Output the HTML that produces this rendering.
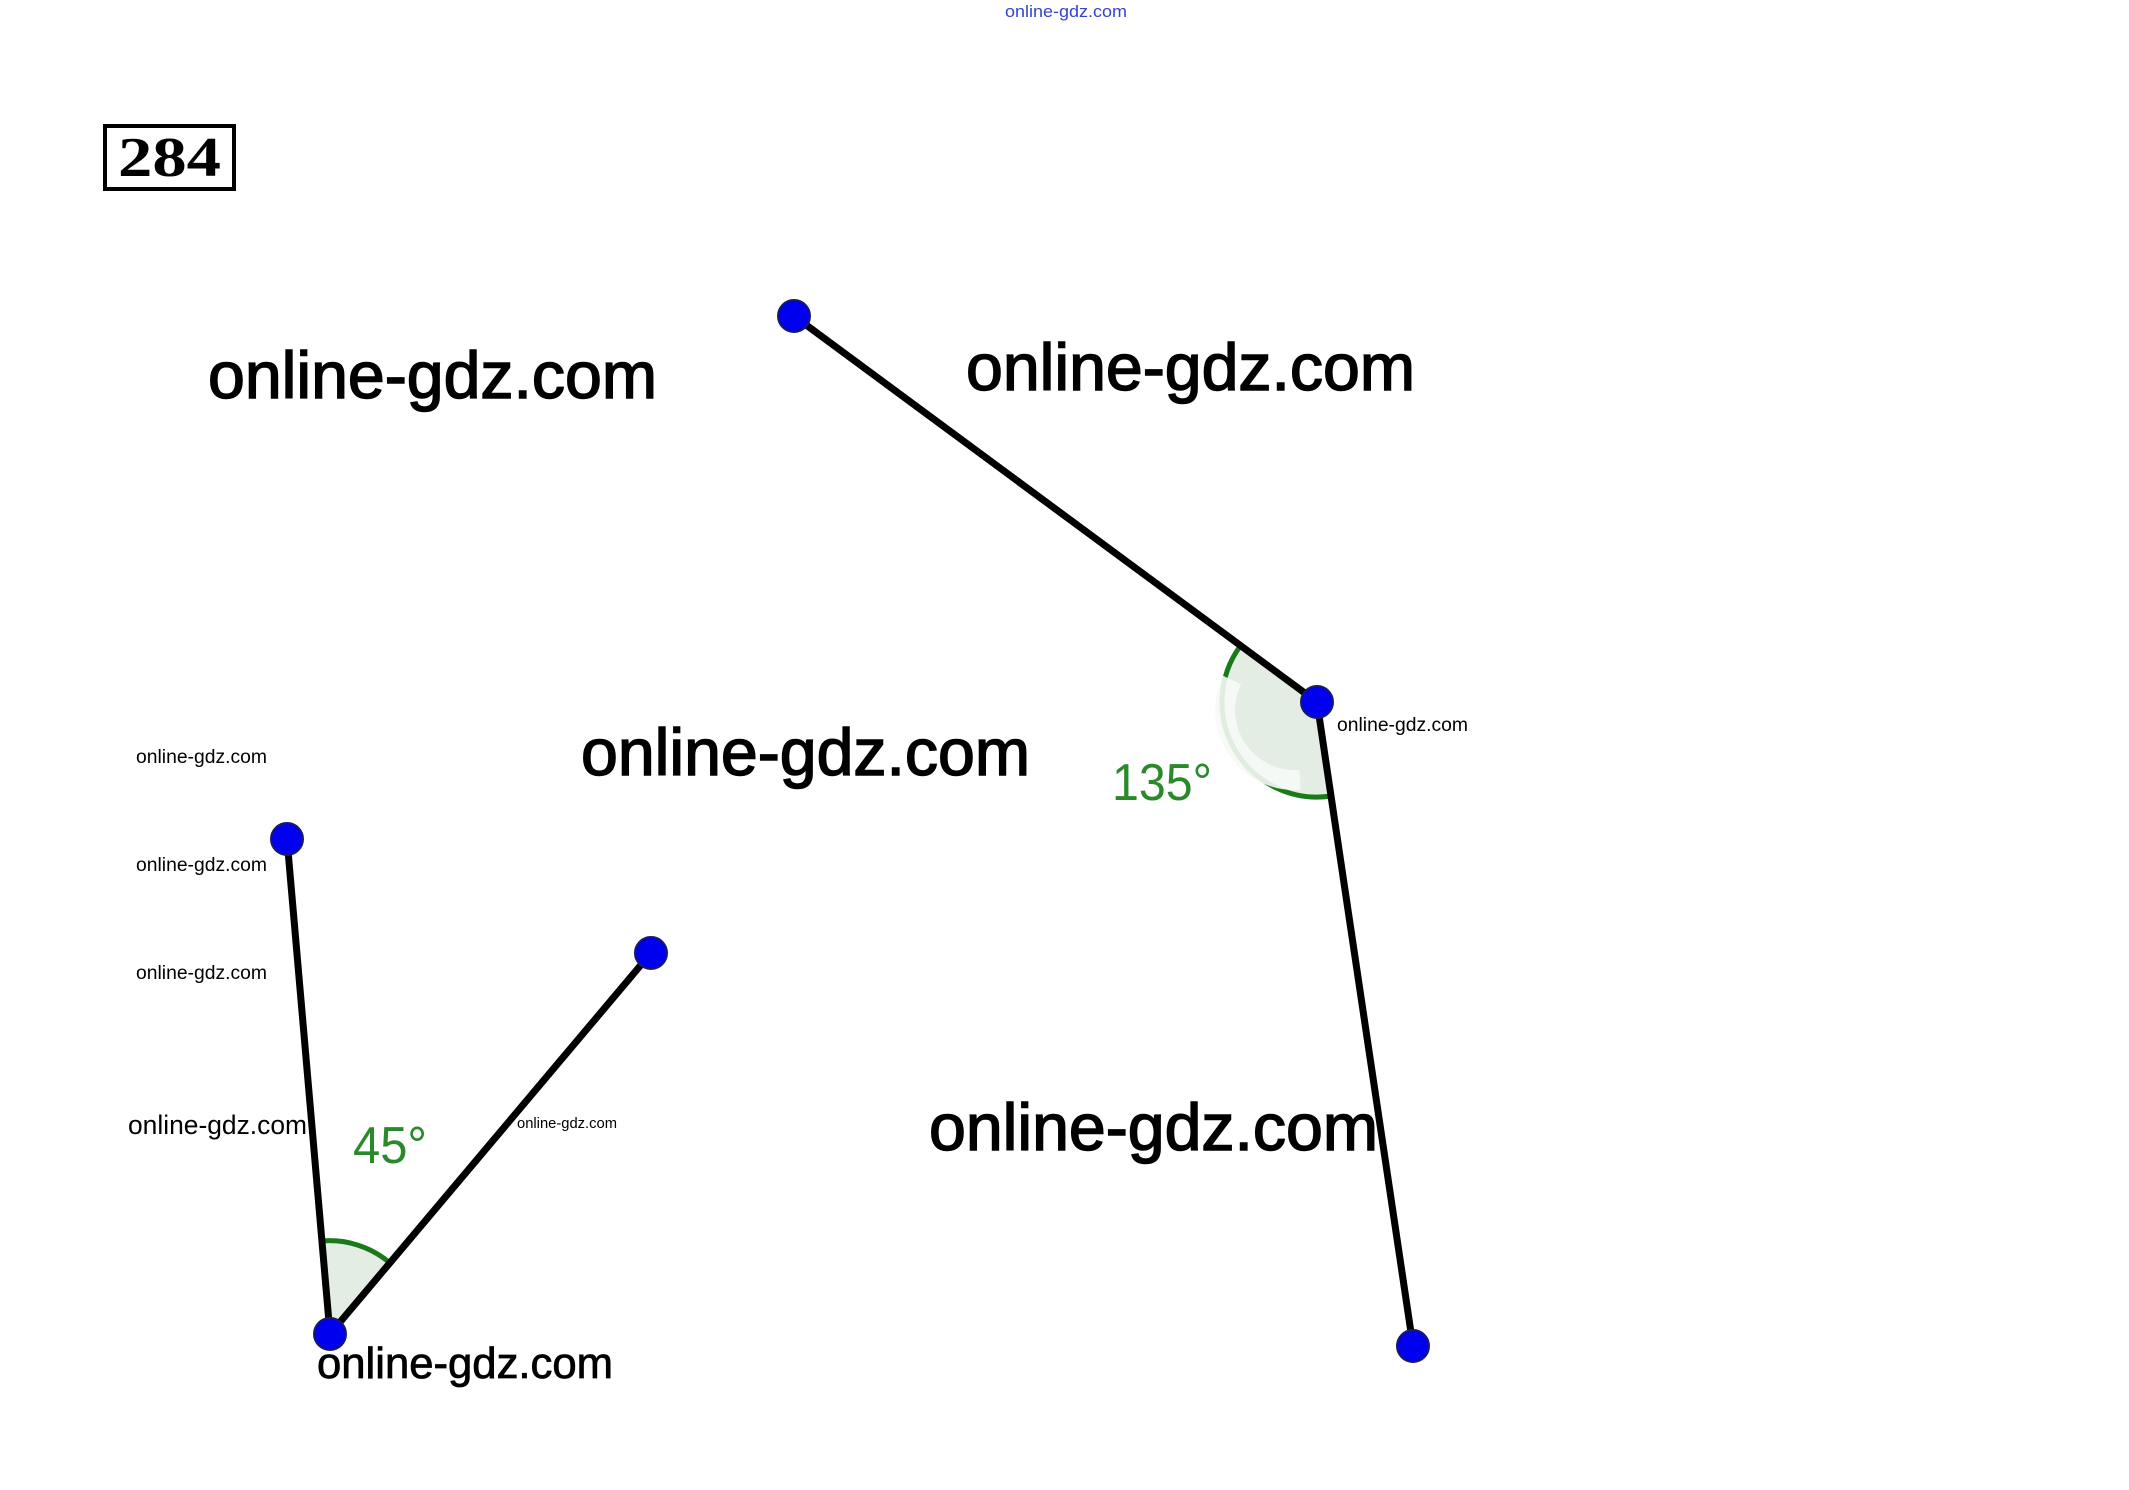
<!DOCTYPE html>
<html><head><meta charset="utf-8"><style>
html,body{margin:0;padding:0;background:#fff;}
svg{display:block;}
</style></head><body>
<svg width="2129" height="1490" viewBox="0 0 2129 1490" xmlns="http://www.w3.org/2000/svg" font-family="Liberation Sans, sans-serif">
<rect width="2129" height="1490" fill="#fff"/>
<text x="1005" y="17" font-size="17" fill="#3344cc" textLength="122" lengthAdjust="spacingAndGlyphs">online-gdz.com</text>
<rect x="105" y="126" width="129" height="63" fill="none" stroke="#000" stroke-width="4"/>
<text x="118" y="176" font-family="Liberation Serif, serif" font-weight="bold" font-size="56" textLength="103" lengthAdjust="spacingAndGlyphs">284</text>
<!-- angle 135 -->
<path d="M1317 702 L1331 796 A95 95 0 0 1 1240.5 645.7 Z" fill="#e3ede3"/>
<path d="M1331 796 A95 95 0 0 1 1240.5 645.7" fill="none" stroke="#1a7a1a" stroke-width="5"/>
<path d="M1300 780 A70 70 0 0 1 1232 680" fill="none" stroke="#f6f9f6" stroke-width="20" opacity="0.9"/>
<!-- angle 45 -->
<path d="M330 1334 L322 1241 A93 93 0 0 1 390 1263 Z" fill="#e3ede3"/>
<path d="M322 1241 A93 93 0 0 1 390 1263" fill="none" stroke="#1a7a1a" stroke-width="5"/>
<g stroke="#000" stroke-width="7" stroke-linecap="round">
<line x1="794" y1="316" x2="1317" y2="702"/>
<line x1="1317" y1="702" x2="1413" y2="1346"/>
<line x1="287" y1="839" x2="330" y2="1334"/>
<line x1="330" y1="1334" x2="651" y2="953"/>
</g>
<g fill="#0000ee" stroke="#1a1a66" stroke-width="2">
<circle cx="794" cy="316" r="16"/>
<circle cx="1317" cy="702" r="16"/>
<circle cx="1413" cy="1346" r="16"/>
<circle cx="287" cy="839" r="16"/>
<circle cx="330" cy="1334" r="16"/>
<circle cx="651" cy="953" r="16"/>
</g>
<text x="1112" y="800" font-size="52" fill="#2a8a2a" textLength="100" lengthAdjust="spacingAndGlyphs">135°</text>
<text x="353" y="1163" font-size="52" fill="#2a8a2a" textLength="74" lengthAdjust="spacingAndGlyphs">45°</text>
<g fill="#000" stroke="#000" stroke-width="1.5">
<text x="208" y="398" font-size="66" textLength="449" lengthAdjust="spacingAndGlyphs">online-gdz.com</text>
<text x="966" y="390" font-size="66" textLength="449" lengthAdjust="spacingAndGlyphs">online-gdz.com</text>
<text x="581" y="775" font-size="66" textLength="449" lengthAdjust="spacingAndGlyphs">online-gdz.com</text>
<text x="929" y="1150" font-size="66" textLength="449" lengthAdjust="spacingAndGlyphs">online-gdz.com</text>
<text x="317" y="1378" font-size="44" textLength="296" lengthAdjust="spacingAndGlyphs" stroke-width="0.8">online-gdz.com</text>
</g>
<g fill="#000">
<text x="128" y="1134" font-size="27" textLength="179" lengthAdjust="spacingAndGlyphs">online-gdz.com</text>
<text x="136" y="763" font-size="19" textLength="131" lengthAdjust="spacingAndGlyphs">online-gdz.com</text>
<text x="136" y="871" font-size="19" textLength="131" lengthAdjust="spacingAndGlyphs">online-gdz.com</text>
<text x="136" y="979" font-size="19" textLength="131" lengthAdjust="spacingAndGlyphs">online-gdz.com</text>
<text x="517" y="1128" font-size="15" textLength="100" lengthAdjust="spacingAndGlyphs">online-gdz.com</text>
<text x="1337" y="731" font-size="19" textLength="131" lengthAdjust="spacingAndGlyphs">online-gdz.com</text>
</g>
</svg>
</body></html>
